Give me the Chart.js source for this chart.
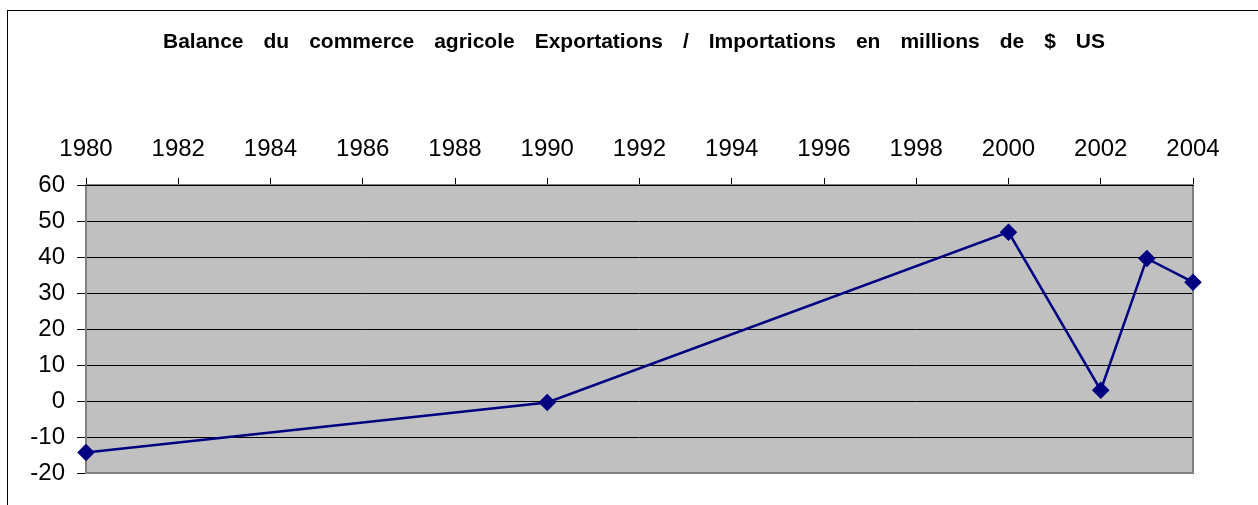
<!DOCTYPE html>
<html>
<head>
<meta charset="utf-8">
<script src="https://cdn.jsdelivr.net/npm/chart.js@4"></script>
<style>
  html, body { margin: 0; padding: 0; background: #fff; overflow: hidden; }
  #wrap { position: relative; width: 1258px; height: 505px; }
  #frame { position: absolute; left: 7px; top: 10px; width: 1300px; height: 600px; border: 1px solid #000; box-sizing: border-box; pointer-events: none; }
  canvas { position: absolute; left: 0; top: 0; }
</style>
</head>
<body>
<div id="wrap">
  <canvas id="c" width="1258" height="505"></canvas>
  <div id="frame"></div>
</div>
<script>
const titleText = "Balance du commerce agricole Exportations / Importations en millions de $ US";
const years = [1980, 1990, 2000, 2002, 2003, 2004];
const balance = [-14.3, -0.4, 46.9, 3.0, 39.6, 33.0];
const yTicks = [-20, -10, 0, 10, 20, 30, 40, 50, 60];
const xTicks = [1980, 1982, 1984, 1986, 1988, 1990, 1992, 1994, 1996, 1998, 2000, 2002, 2004];

const FONT = "'Liberation Sans', Arial, sans-serif";

// Title drawn as canvas text, words spread across the same span as the original
const titlePlugin = {
  id: 'wideTitle',
  afterDraw(chart) {
    const ctx = chart.ctx;
    ctx.save();
    ctx.font = "bold 21px " + FONT;
    ctx.fillStyle = '#000';
    ctx.textBaseline = 'alphabetic';
    const words = titleText.split(' ');
    const left = 163, right = 1105, base = 48;
    const widths = words.map(w => ctx.measureText(w).width);
    const total = widths.reduce((a, b) => a + b, 0);
    const gap = (right - left - total) / (words.length - 1);
    let x = left;
    words.forEach((w, i) => { ctx.fillText(w, x, base); x += widths[i] + gap; });
    ctx.restore();
  }
};

const plotBg = {
  id: 'plotBg',
  beforeDraw(chart) {
    const { ctx, chartArea: a } = chart;
    ctx.save();
    ctx.fillStyle = '#C0C0C0';
    ctx.fillRect(a.left, a.top, a.right - a.left, a.bottom - a.top);
    ctx.restore();
  },
  beforeDatasetsDraw(chart) {
    const { ctx, chartArea: a } = chart;
    ctx.save();
    ctx.strokeStyle = '#808080';
    ctx.lineWidth = 2;
    ctx.strokeRect(a.left, a.top, a.right - a.left, a.bottom - a.top);
    ctx.strokeStyle = '#000';
    ctx.lineWidth = 1;
    ctx.beginPath();
    ctx.moveTo(a.left - 1, Math.round(a.top) + 0.5);
    ctx.lineTo(a.right + 1, Math.round(a.top) + 0.5);
    ctx.stroke();
    ctx.restore();
  }
};

new Chart(document.getElementById('c'), {
  type: 'line',
  data: {
    datasets: [{
      data: years.map((y, i) => ({ x: y, y: balance[i] })),
      borderColor: '#000080',
      backgroundColor: '#000080',
      borderWidth: 2.5,
      pointStyle: 'rectRot',
      pointRadius: 7,
      pointHoverRadius: 7,
      tension: 0,
      clip: false
    }]
  },
  options: {
    responsive: false,
    animation: false,
    devicePixelRatio: 1,
    layout: { padding: { left: 0, right: 65, top: 60, bottom: 32 } },
    plugins: {
      legend: { display: false },
      tooltip: { enabled: false },
      title: { display: false }
    },
    scales: {
      x: {
        type: 'linear',
        position: 'top',
        min: 1980,
        max: 2004,
        afterBuildTicks(scale) { scale.ticks = xTicks.map(v => ({ value: v })); },
        afterFit(scale) { scale.height = 185 - 60; },
        grid: { drawOnChartArea: false, color: '#000', tickLength: 7, tickWidth: 1 },
        border: { display: false },
        ticks: {
          color: '#000',
          font: { family: FONT, size: 24 },
          padding: 14,
          maxRotation: 0,
          autoSkip: false,
          callback: v => String(v)
        }
      },
      y: {
        type: 'linear',
        min: -20,
        max: 60,
        afterBuildTicks(scale) { scale.ticks = yTicks.map(v => ({ value: v })); },
        afterFit(scale) { scale.width = 86; },
        grid: { color: '#000', lineWidth: 1, tickLength: 9, drawTicks: true },
        border: { display: false },
        ticks: {
          color: '#000',
          font: { family: FONT, size: 24 },
          padding: 12,
          autoSkip: false,
          callback: v => String(v)
        }
      }
    }
  },
  plugins: [plotBg, titlePlugin]
});
</script>
</body>
</html>
